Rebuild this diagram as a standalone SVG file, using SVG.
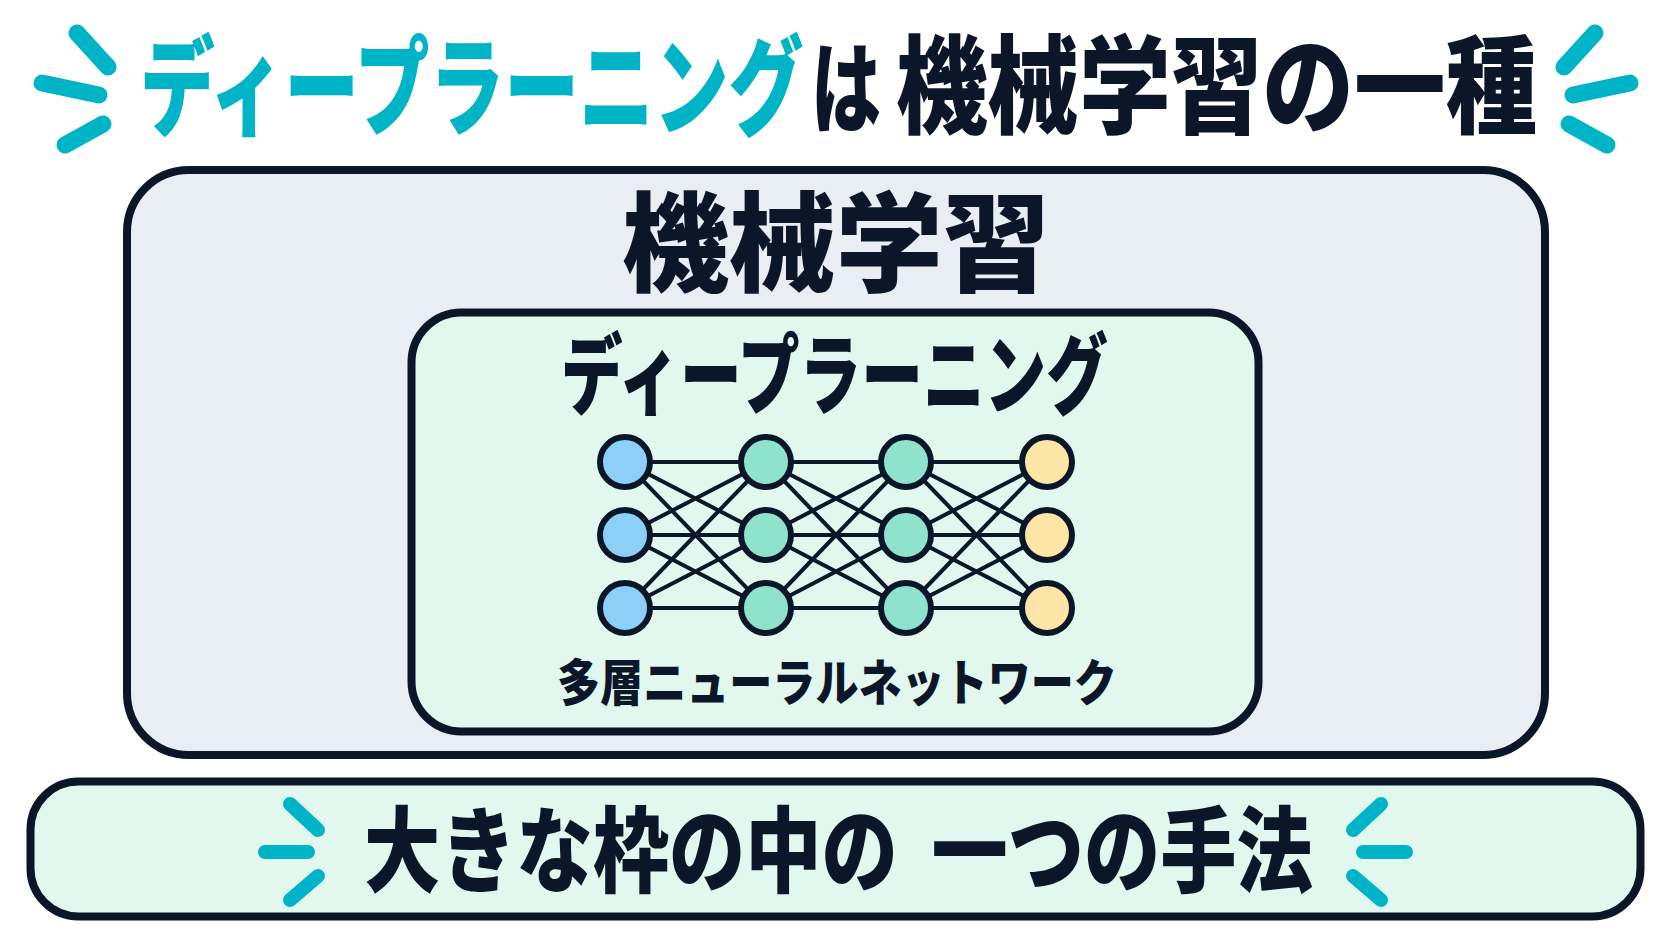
<svg xmlns="http://www.w3.org/2000/svg" width="1672" height="941" viewBox="0 0 1672 941">
<style>
.jp{font-family:'Noto Sans CJK JP','Noto Sans CJK SC',sans-serif;font-weight:900}
.dark{fill:#0b1628}
.cyan{fill:#00b4c8}
.spark{stroke:#00b4c8;stroke-linecap:round;fill:none}
.box{stroke:#0b1628;stroke-width:8}
.node{stroke:#0b1628;stroke-width:6}
.in{fill:#8ccff7}
.hid{fill:#8fe3cd}
.out{fill:#fde5a6}
.conn line{stroke:#0b1628;stroke-width:4}
</style>
<rect width="1672" height="941" fill="#ffffff"/>

<g id="title">
<text class="jp cyan" font-size="108" transform="translate(140,127) scale(0.6926,1)">ディープラーニング</text>
<text class="jp dark" font-size="100" transform="translate(811,125) scale(0.70,1)">は</text>
<text class="jp dark" font-size="107" transform="translate(896,125) scale(0.856,1)">機械学習の一種</text>
</g>
<g id="title-sparkles" class="spark" stroke-width="17">
<line x1="77" y1="33" x2="108" y2="67"/>
<line x1="42" y1="83" x2="99" y2="95"/>
<line x1="103" y1="124" x2="65" y2="145"/>
<line x1="1595" y1="33" x2="1564" y2="67"/>
<line x1="1630" y1="83" x2="1573" y2="95"/>
<line x1="1569" y1="124" x2="1607" y2="145"/>
</g>

<g id="machine-learning">
<rect class="box" x="127" y="170" width="1418" height="585" rx="62" fill="#e9eef5"/>
<text class="jp dark" font-size="108" transform="translate(622,283) scale(0.99,1)">機械学習</text>
</g>

<g id="deep-learning">
<rect class="box" x="411.5" y="312.5" width="847" height="419" rx="50" stroke-width="7" fill="#e2f8ef"/>
<text class="jp dark" font-size="88" transform="translate(561,407) scale(0.7008,1)">ディープラーニング</text>
<text class="jp dark" font-size="50" transform="translate(557,701) scale(0.8615,1)">多層ニューラルネットワーク</text>
</g>

<g id="connectors" class="conn">
<line x1="625" y1="462" x2="766" y2="462"/><line x1="625" y1="462" x2="766" y2="535"/><line x1="625" y1="462" x2="766" y2="608"/>
<line x1="625" y1="535" x2="766" y2="462"/><line x1="625" y1="535" x2="766" y2="535"/><line x1="625" y1="535" x2="766" y2="608"/>
<line x1="625" y1="608" x2="766" y2="462"/><line x1="625" y1="608" x2="766" y2="535"/><line x1="625" y1="608" x2="766" y2="608"/>
<line x1="766" y1="462" x2="906" y2="462"/><line x1="766" y1="462" x2="906" y2="535"/><line x1="766" y1="462" x2="906" y2="608"/>
<line x1="766" y1="535" x2="906" y2="462"/><line x1="766" y1="535" x2="906" y2="535"/><line x1="766" y1="535" x2="906" y2="608"/>
<line x1="766" y1="608" x2="906" y2="462"/><line x1="766" y1="608" x2="906" y2="535"/><line x1="766" y1="608" x2="906" y2="608"/>
<line x1="906" y1="462" x2="1047" y2="462"/><line x1="906" y1="462" x2="1047" y2="535"/><line x1="906" y1="462" x2="1047" y2="608"/>
<line x1="906" y1="535" x2="1047" y2="462"/><line x1="906" y1="535" x2="1047" y2="535"/><line x1="906" y1="535" x2="1047" y2="608"/>
<line x1="906" y1="608" x2="1047" y2="462"/><line x1="906" y1="608" x2="1047" y2="535"/><line x1="906" y1="608" x2="1047" y2="608"/>
</g>

<g id="input-1"><circle class="node in" cx="625" cy="462" r="25"/></g>
<g id="input-2"><circle class="node in" cx="625" cy="535" r="25"/></g>
<g id="input-3"><circle class="node in" cx="625" cy="608" r="25"/></g>
<g id="hidden1-1"><circle class="node hid" cx="766" cy="462" r="25"/></g>
<g id="hidden1-2"><circle class="node hid" cx="766" cy="535" r="25"/></g>
<g id="hidden1-3"><circle class="node hid" cx="766" cy="608" r="25"/></g>
<g id="hidden2-1"><circle class="node hid" cx="906" cy="462" r="25"/></g>
<g id="hidden2-2"><circle class="node hid" cx="906" cy="535" r="25"/></g>
<g id="hidden2-3"><circle class="node hid" cx="906" cy="608" r="25"/></g>
<g id="output-1"><circle class="node out" cx="1047" cy="462" r="25"/></g>
<g id="output-2"><circle class="node out" cx="1047" cy="535" r="25"/></g>
<g id="output-3"><circle class="node out" cx="1047" cy="608" r="25"/></g>

<g id="summary">
<rect class="box" x="30.5" y="781.5" width="1610" height="135" rx="48" stroke-width="7" fill="#e2f8ef"/>
<text class="jp dark" font-size="93" transform="scale(0.82,1)"><tspan x="444" y="885">大きな枠の中の</tspan><tspan x="1136" y="885">一つの手法</tspan></text>
<g class="spark" stroke-width="14">
<line x1="290" y1="804" x2="318" y2="830"/>
<line x1="265" y1="852" x2="308" y2="852"/>
<line x1="318" y1="876" x2="290" y2="900"/>
<line x1="1381" y1="804" x2="1353" y2="830"/>
<line x1="1406" y1="852" x2="1363" y2="852"/>
<line x1="1353" y1="876" x2="1381" y2="900"/>
</g>
</g>
</svg>
